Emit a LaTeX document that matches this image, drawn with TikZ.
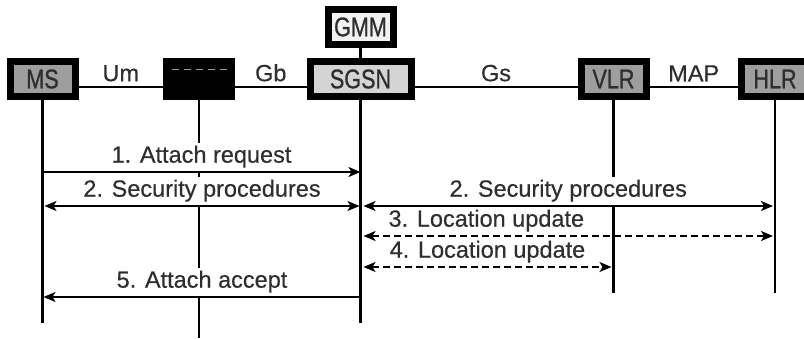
\documentclass[tikz,border=0pt]{standalone}
\usepackage{fontspec}
\setmainfont{Liberation Sans}[FakeBold=0.4]
\newfontfamily\boxfont{Liberation Sans}[FakeStretch=0.8,FakeBold=0.8]
\usetikzlibrary{arrows.meta}
\definecolor{ink}{HTML}{2E2E2E}
\definecolor{fillmid}{HTML}{9E9E9E}
\definecolor{filllight}{HTML}{D4D4D4}
\definecolor{fillpale}{HTML}{F2F2F2}

\begin{document}
\begin{tikzpicture}[x=1pt,y=-1pt,
  ent/.style={draw=black,line width=7pt,minimum width=65pt,minimum height=35pt,inner sep=0pt,text=ink,font=\boxfont\fontsize{27}{27}\selectfont},
  link/.style={line width=2.4pt},
  life/.style={line width=2.8pt},
  lbl/.style={text=ink,fill=white,font=\fontsize{23.5}{24}\selectfont,text height=16pt,text depth=5pt,inner xsep=1pt,inner ysep=3.5pt,anchor=south},
  msg/.style={line width=1.6pt,-{Stealth[length=12pt,width=10pt,inset=3pt]}},
  dmsg/.style={msg,{Stealth[length=12pt,width=10pt,inset=3pt]}-{Stealth[length=12pt,width=10pt,inset=3pt]},dash pattern=on 7pt off 4pt}]
\useasboundingbox (0,0) rectangle (804,338);
\node[ent,fill=fillmid] (MS) at (42.5,79) {MS};
\node[ent,fill=black] (BSS) at (199,79) {};
\node[ent,fill=filllight,minimum width=101pt] (SGSN) at (360.5,79) {SGSN};
\node[ent,fill=fillpale] (GMM) at (360.5,27) {GMM};
\node[ent,fill=fillmid] (VLR) at (613.5,79) {VLR};
\node[ent,fill=fillmid,minimum width=67pt] (HLR) at (775,79) {HLR};
\draw[gray!80,line width=1pt,dash pattern=on 7pt off 5pt] ([xshift=-27pt,yshift=10pt]BSS.center) -- ([xshift=31pt,yshift=10pt]BSS.center);
\draw[link] (GMM.south) -- (SGSN.north);
\draw[link] ([yshift=-8pt]MS.east) -- node[above=1pt,text=ink,font=\fontsize{23.5}{24}\selectfont] {Um} ([yshift=-8pt]BSS.west);
\draw[link] ([yshift=-8pt]BSS.east) -- node[above=1pt,text=ink,font=\fontsize{23.5}{24}\selectfont] {Gb} ([yshift=-8pt]SGSN.west);
\draw[link] ([yshift=-8pt]SGSN.east) -- node[above=1pt,text=ink,font=\fontsize{23.5}{24}\selectfont] {Gs} ([yshift=-8pt]VLR.west);
\draw[link] ([yshift=-8pt]VLR.east) -- node[above=1pt,text=ink,font=\fontsize{23.5}{24}\selectfont] {MAP} ([yshift=-8pt]HLR.west);
% lifelines
\draw[life] (MS.south) -- (MS.south|-0,323);
\draw[life] (BSS.south) -- (BSS.south|-0,338);
\draw[life] (SGSN.south) -- (SGSN.south|-0,323);
\draw[life] (VLR.south) -- (VLR.south|-0,293);
\draw[life] (HLR.south) -- (HLR.south|-0,293);
% messages
\draw[msg] (MS|-0,172) -- node[lbl,midway] {1. Attach request} (SGSN|-0,172);
\draw[msg,{Stealth[length=12pt,width=10pt,inset=3pt]}-{Stealth[length=12pt,width=10pt,inset=3pt]}] ([xshift=2pt]MS|-0,206) -- node[lbl,midway] {2. Security procedures} ([xshift=-1pt]SGSN|-0,206);
\draw[msg,{Stealth[length=12pt,width=10pt,inset=3pt]}-{Stealth[length=12pt,width=10pt,inset=3pt]}] ([xshift=3pt]SGSN|-0,206) -- node[lbl,midway] {2. Security procedures} ([xshift=-2pt]HLR|-0,206);
\draw[dmsg] ([xshift=3pt]SGSN|-0,236) -- node[lbl,pos=.3] {3. Location update} ([xshift=-2pt]HLR|-0,236);
\draw[dmsg] ([xshift=3pt]SGSN|-0,267) -- node[lbl,midway] {4. Location update} ([xshift=-2pt]VLR|-0,267);
\draw[msg] (SGSN|-0,297) -- node[lbl,midway] {5. Attach accept} ([xshift=1pt]MS|-0,297);
\end{tikzpicture}
\end{document}
